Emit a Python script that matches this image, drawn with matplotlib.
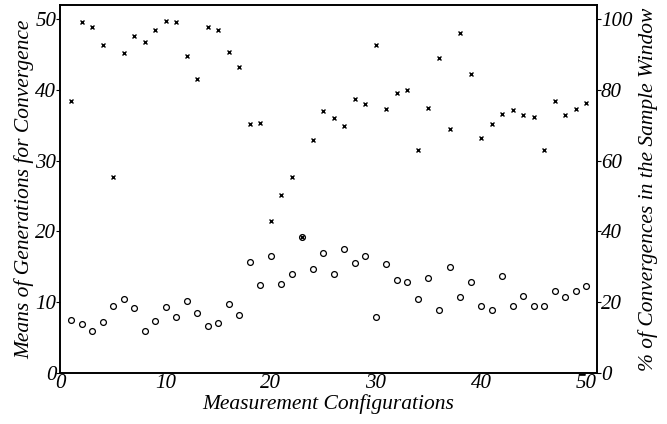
import matplotlib
matplotlib.use("Agg")
import matplotlib.pyplot as plt
import numpy as np

configs = list(range(1, 51))
mean_generations = [7.4, 6.9, 5.9, 7.2, 9.5, 10.4, 9.1, 5.9, 7.3, 9.3,
                    7.9, 10.1, 8.5, 6.6, 7.1, 9.7, 8.1, 15.6, 12.4, 16.5,
                    12.6, 14.0, 19.2, 14.7, 17.0, 14.0, 17.5, 15.5, 16.5, 7.9,
                    15.4, 13.1, 12.9, 10.4, 13.4, 8.8, 14.9, 10.7, 12.9, 9.5,
                    8.8, 13.7, 9.5, 10.8, 9.4, 9.4, 11.5, 10.7, 11.5, 12.3]
pct_converged = [76.9, 99.3, 97.7, 92.8, 55.4, 90.4, 95.2, 93.6, 96.9, 99.4,
                 99.1, 89.6, 83.1, 97.9, 97.0, 90.6, 86.5, 70.4, 70.6, 43.0,
                 50.4, 55.4, 38.5, 65.9, 74.0, 72.0, 69.8, 77.4, 76.1, 92.6,
                 74.6, 79.0, 80.0, 63.1, 74.8, 88.9, 69.0, 96.0, 84.6, 66.3,
                 70.3, 73.2, 74.2, 72.9, 72.2, 62.9, 76.9, 72.9, 74.6, 76.2]
xticks = [0, 10, 20, 30, 40, 50]
left_ticks = [0, 10, 20, 30, 40, 50]
right_ticks = [0, 20, 40, 60, 80, 100]

plt.rcParams['font.family'] = ['Liberation Serif', 'DejaVu Serif']
plt.rcParams['font.style'] = 'italic'
plt.rcParams['font.size'] = 15

fig = plt.figure(figsize=(6.67, 4.24), dpi=100)
ax = fig.add_axes([0.0907, 0.121, 0.8039, 0.867])
ax2 = ax.twinx()

ax.plot(configs, mean_generations, linestyle='none', marker='o', ms=4.2,
        mfc='none', mec='black', mew=0.9)
ax2.plot(configs, pct_converged, linestyle='none', marker='x', ms=3.2,
         color='black', mew=1.0)

ax.set_xlim(0, 51)
ax.set_ylim(0, 52)
ax2.set_ylim(0, 104)
ax.set_xticks(xticks)
ax.set_yticks(left_ticks)
ax2.set_yticks(right_ticks)

for a in (ax, ax2):
    for s in a.spines.values():
        s.set_linewidth(1.2)
ax.tick_params(axis='x', length=0, pad=1, labelsize=15)
ax.tick_params(axis='y', length=3, width=0.8, pad=0, labelsize=15)
ax2.tick_params(axis='y', length=3, width=0.8, pad=0, labelsize=15)

ax.set_xlabel('Measurement Configurations', fontsize=15.5, labelpad=1)
ax.set_ylabel('Means of Generations for Convergence', fontsize=15.5, labelpad=1)
ax2.set_ylabel('% of Convergences in the Sample Window', fontsize=15.5, labelpad=4)

fig.savefig('out.png', dpi=100)
